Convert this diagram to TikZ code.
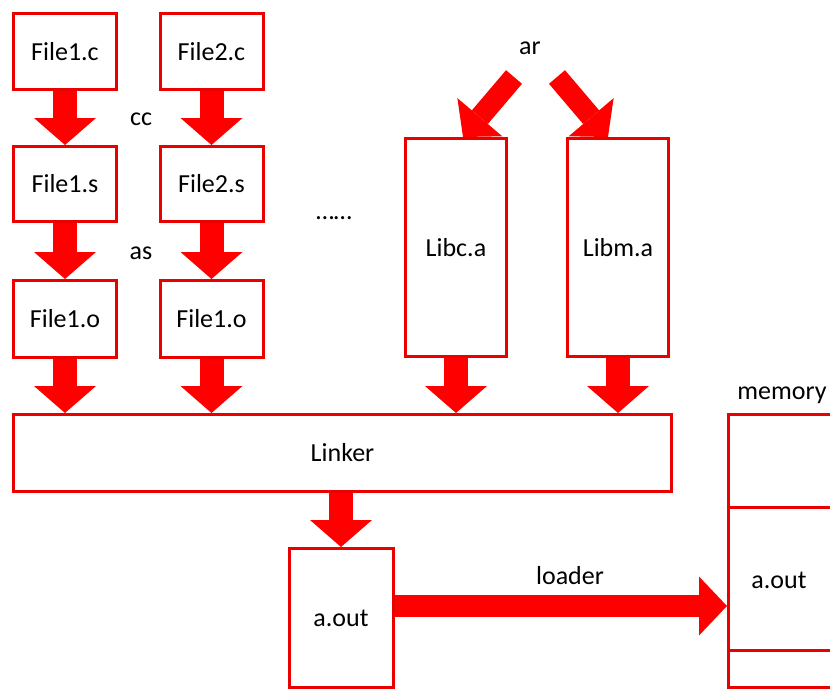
\documentclass[tikz,border=0pt]{standalone}
\usepackage{fontspec}
\setmainfont{Carlito}
\usetikzlibrary{arrows.meta,calc}
\definecolor{boxred}{RGB}{235,0,0}
\definecolor{arrowred}{RGB}{255,0,0}
\tikzset{
  box/.style={draw=boxred, line width=3pt, fill=white, inner sep=0pt,
    font=\fontsize{26}{30}\selectfont},
  lbl/.style={inner sep=0pt, font=\fontsize{26}{30}\selectfont},
  fat/.style={draw=arrowred, line width=24pt,
    -{Triangle[length=27pt,width=62pt,line width=0pt]}},
  slant/.style={draw=arrowred, line width=21pt,
    -{Triangle[length=26pt,width=59pt,line width=0pt]}},
  wide/.style={draw=arrowred, line width=22pt,
    -{Triangle[length=28pt,width=59pt,line width=0pt]}},
}
\begin{document}
\begin{tikzpicture}[x=1pt,y=-1pt]
\useasboundingbox (0,0) rectangle (830,689);
\clip (0,0) rectangle (830,689);

% source, assembly and object files
\node[box, minimum width=103pt, minimum height=76pt] (f1c) at (65,51.5) {File1.c};
\node[box, minimum width=103pt, minimum height=76pt] (f2c) at (211.5,51.5) {File2.c};
\node[box, minimum width=103pt, minimum height=75pt] (f1s) at (65,184) {File1.s};
\node[box, minimum width=103pt, minimum height=75pt] (f2s) at (211.5,184) {File2.s};
\node[box, minimum width=103pt, minimum height=77pt] (f1o) at (65,319) {File1.o};
\node[box, minimum width=103pt, minimum height=77pt] (f2o) at (211.5,319) {File1.o};

% libraries
\node[box, minimum width=101pt, minimum height=218pt] (libc) at (456,247.5) {Libc.a};
\node[box, minimum width=101pt, minimum height=218pt] (libm) at (618,247.5) {Libm.a};

% linker and executable
\node[box, minimum width=658pt, minimum height=77pt] (linker) at (342.5,453) {Linker};
\node[box, minimum width=104pt, minimum height=139pt] (aout) at (341,618) {a.out};

% memory column (runs off the right edge)
\node[box, minimum width=140pt, minimum height=273pt] (mem) at (798.5,551) {};
\draw[boxred, line width=3pt] (mem.west |- 0,507) -- (mem.east |- 0,507);
\draw[boxred, line width=3pt] (mem.west |- 0,650) -- (mem.east |- 0,650);
\node[lbl] (memtxt) at (779,580) {a.out};
\node[lbl] (memlbl) at (782,395) {memory};

% tool labels
\node[lbl] (cc) at (141,119) {cc};
\node[lbl] (as) at (141,253) {as};
\node[lbl] (ar) at (530,48) {ar};
\node[lbl] (dots) at (334,218) {……};
\node[lbl] (loader) at (570,576) {loader};

% compile and assemble
\draw[fat] (f1c.south) -- (f1s.north);
\draw[fat] (f2c.south) -- (f2s.north);
\draw[fat] (f1s.south) -- (f1o.north);
\draw[fat] (f2s.south) -- (f2o.north);

% archive
\coordinate (arl) at (514,77);
\coordinate (arr) at (557,77);
\draw[slant] (arl) -- ([xshift=7pt]libc.north);
\draw[slant] (arr) -- ([xshift=-10pt]libm.north);

% link
\draw[fat] (f1o.south) -- (f1o.south |- linker.north);
\draw[fat] (f2o.south) -- (f2o.south |- linker.north);
\draw[fat] (libc.south) -- (libc.south |- linker.north);
\draw[fat] (libm.south) -- (libm.south |- linker.north);
\draw[fat] (aout.north |- linker.south) -- (aout.north);

% load
\coordinate (ld) at ($(aout.east)+(0,-12)$);
\draw[wide] (ld) -- (mem.west |- ld);
\end{tikzpicture}
\end{document}
